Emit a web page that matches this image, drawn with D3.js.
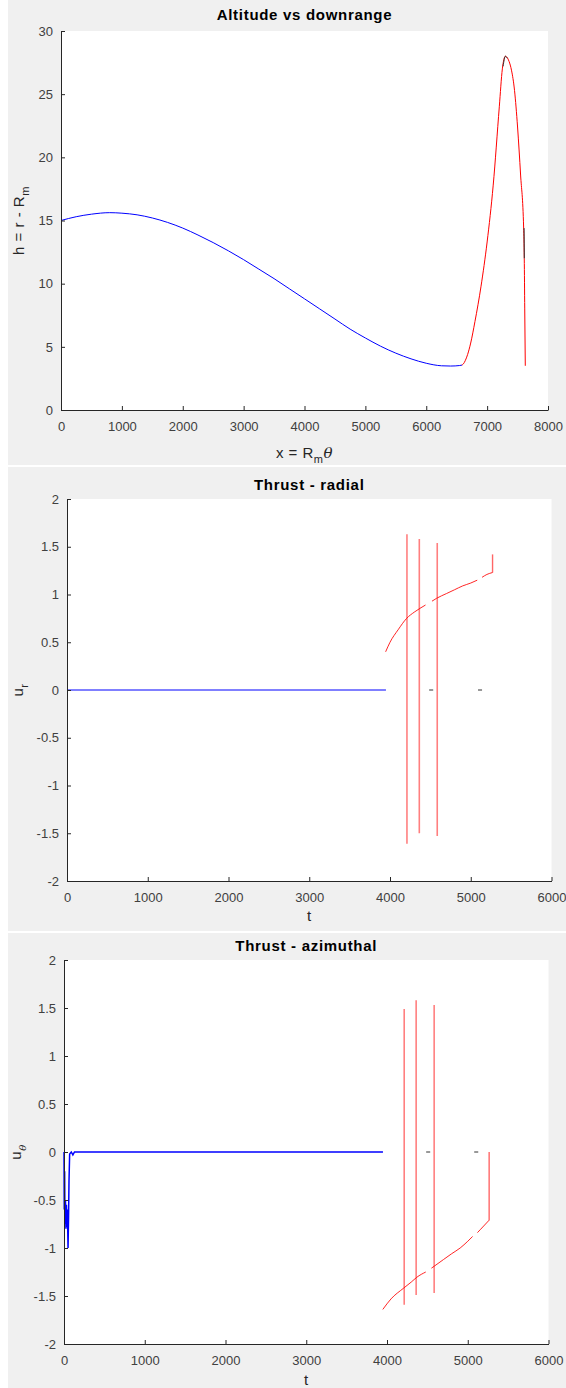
<!DOCTYPE html>
<html>
<head>
<meta charset="utf-8">
<script src="https://cdn.jsdelivr.net/npm/d3@7"></script>
<style>
  body { margin: 0; background: #fff; }
  text { font-family: "Liberation Sans", Arial, sans-serif; }
</style>
</head>
<body>
<script>
// ---- data ----
// altitude vs downrange: [x, h]
const coastPath = [[0,15.0],[250,15.3],[500,15.5],[800,15.62],[1000,15.58],[1250,15.45],[1500,15.2],
  [1750,14.85],[2000,14.4],[2250,13.85],[2500,13.25],[2750,12.6],[3000,11.9],[3250,11.15],[3500,10.4],
  [3750,9.6],[4000,8.8],[4250,8.0],[4500,7.2],[4750,6.4],[5000,5.7],[5250,5.05],[5500,4.5],[5750,4.05],
  [6000,3.7],[6250,3.5],[6400,3.48],[6550,3.52],[6590,3.56]];
const burnPath = [[6585,3.56],[6610,3.65],[6640,3.9],[6680,4.4],[6730,5.3],[6800,7.0],[6900,9.8],[7000,13.3],
  [7100,17.8],[7200,24.0],[7250,27.0],[7300,28.0],[7360,27.6],[7400,26.9],[7450,25.3],[7500,22.4],
  [7550,18.6],[7600,14.4],[7610,12.0],[7618,8.0],[7627,3.5]];
const coastMarks = [
  [[7262,27.2],[7300,28.0],[7330,27.85]],
  [[7607,14.4],[7611,12.0]]
];

// radial thrust: [t, u_r]
const radialZero = [[0,0],[3950,0]];
const radialBurn = [[3946,0.40],[4000,0.50],[4100,0.63],[4206,0.75],[4300,0.815],[4371,0.855],[4440,0.89],null,
  [4520,0.93],[4577,0.96],[4700,1.01],[4800,1.05],[4900,1.09],[5000,1.12],[5080,1.15],null,
  [5140,1.18],[5200,1.21],[5270,1.23]];
const radialEnd = [[5270,1.23],[5270,1.42]];
const radialSpikes = [[4210,1.63,-1.61],[4363,1.58,-1.50],[4585,1.54,-1.53]];
const radialDashes = [[4485,4535],[5090,5140]];

// azimuthal thrust: [t, u_theta]
const azimuthZero = [[0,0],[3,-0.6],[8,-0.2],[12,-0.75],[18,-0.5],[24,-0.8],[30,-0.55],[36,-0.78],
  [42,-0.6],[50,-1.0],[56,-0.7],[62,-0.3],[70,-0.02],[90,0],[110,-0.03],[130,0],[3950,0]];
const azimuthBurn = [[3948,-1.64],[4050,-1.53],[4203,-1.42],[4300,-1.355],[4369,-1.305],[4480,-1.25],null,
  [4550,-1.21],[4584,-1.19],[4700,-1.12],[4800,-1.06],[4906,-1.0],[5000,-0.93],[5060,-0.88],null,
  [5120,-0.84],[5154,-0.81],[5265,-0.71]];
const azimuthEnd = [[5265,-0.71],[5265,0.0]];
const azimuthSpikes = [[4213,1.49,-1.59],[4361,1.58,-1.49],[4584,1.53,-1.47]];
const azimuthDashes = [[4485,4535],[5080,5130]];

const W = 566, H = 1388;
const svg = d3.select("body").append("svg")
  .attr("width", W).attr("height", H);

svg.append("rect").attr("width", W).attr("height", H).attr("fill", "#fff");

// gray figure backgrounds
[[0,465],[467,931],[933,1388]].forEach(([y0,y1]) => {
  svg.append("rect").attr("x", 8).attr("y", y0).attr("width", W - 8).attr("height", y1 - y0)
    .attr("fill", "#f0f0f0");
});

function drawPanel(p) {
  const x = d3.scaleLinear().domain(p.xDomain).range([p.left, p.right]);
  const y = d3.scaleLinear().domain(p.yDomain).range([p.bottom, p.top]);

  svg.append("rect")
    .attr("x", p.left).attr("y", p.top)
    .attr("width", p.right - p.left).attr("height", p.bottom - p.top)
    .attr("fill", "#fff");

  const g = svg.append("g");

  p.series.forEach(s => {
    const line = d3.line().defined(d => d != null)
      .x(d => x(d[0])).y(d => y(d[1]))
      .curve(s.curve || d3.curveLinear);
    g.append("path")
      .attr("d", line(s.data))
      .attr("fill", "none")
      .attr("stroke", s.color)
      .attr("stroke-opacity", s.opacity || 1)
      .attr("stroke-width", s.width || 1);
  });

  if (p.spikes) {
    g.selectAll(null).data(p.spikes).join("line")
      .attr("x1", d => x(d[0])).attr("x2", d => x(d[0]))
      .attr("y1", d => y(d[1])).attr("y2", d => y(d[2]))
      .attr("stroke", "#ff0000").attr("stroke-opacity", 0.5).attr("stroke-width", 1.6);
  }
  if (p.dashes) {
    g.selectAll(null).data(p.dashes).join("line")
      .attr("x1", d => x(d[0])).attr("x2", d => x(d[1]))
      .attr("y1", y(0)).attr("y2", y(0))
      .attr("stroke", "#333").attr("stroke-width", 1);
  }

  const fmt = d => String(d);
  const ax = svg.append("g")
    .attr("transform", `translate(0,${p.bottom})`)
    .call(d3.axisBottom(x).tickValues(p.xTicks).tickFormat(fmt)
      .tickSizeInner(-4).tickSizeOuter(0).tickPadding(12));
  const ay = svg.append("g")
    .attr("transform", `translate(${p.left},0)`)
    .call(d3.axisLeft(y).tickValues(p.yTicks).tickFormat(fmt)
      .tickSizeInner(-4).tickSizeOuter(0).tickPadding(8));
  [ax, ay].forEach(a => {
    a.selectAll("path, line").attr("stroke", "#262626");
    a.selectAll("text").attr("fill", "#404040").style("font-size", "13px")
      .style("font-family", "'Liberation Sans', Arial, sans-serif");
  });

  svg.append("text")
    .attr("x", (p.left + p.right) / 2).attr("y", p.titleY)
    .attr("text-anchor", "middle")
    .style("font-size", "15px").style("font-weight", "bold")
    .style("letter-spacing", "0.7px")
    .text(p.title);

  const xl = svg.append("text")
    .attr("x", (p.left + p.right) / 2).attr("y", p.xLabelY)
    .attr("text-anchor", "middle").attr("fill", "#262626")
    .style("font-size", "15px").style("letter-spacing", "0.5px");
  p.xLabel(xl);

  const yl = svg.append("text")
    .attr("transform", `translate(${p.yLabelX},${(p.top + p.bottom) / 2}) rotate(-90)`)
    .attr("text-anchor", "middle").attr("fill", "#262626")
    .style("font-size", "15px").style("letter-spacing", "0.5px");
  p.yLabel(yl);
}

const smooth = d3.curveMonotoneX;

drawPanel({
  left: 61, right: 548, top: 31, bottom: 410,
  xDomain: [0, 8000], yDomain: [0, 30],
  xTicks: d3.range(0, 8001, 1000), yTicks: d3.range(0, 31, 5),
  title: "Altitude vs downrange", titleY: 20, xLabelY: 458, yLabelX: 24,
  series: [
    {data: coastPath, color: "#0000ff", curve: smooth},
    {data: burnPath, color: "#ff0000", curve: smooth},
    {data: coastMarks[0], color: "#333", curve: smooth},
    {data: coastMarks[1], color: "#333"}
  ],
  xLabel: t => {
    t.append("tspan").text("x = R");
    t.append("tspan").attr("dy", 5).style("font-size", "11px").text("m");
    t.append("tspan").attr("dy", -5).style("font-style", "italic").style("font-family", "'DejaVu Serif', serif").text("θ");
  },
  yLabel: t => {
    t.append("tspan").text("h = r - R");
    t.append("tspan").attr("dy", 5).style("font-size", "11px").text("m");
  }
});

drawPanel({
  left: 67, right: 551.5, top: 499, bottom: 881,
  xDomain: [0, 6000], yDomain: [-2, 2],
  xTicks: d3.range(0, 6001, 1000), yTicks: d3.range(-2, 2.01, 0.5),
  title: "Thrust - radial", titleY: 490, xLabelY: 921, yLabelX: 23,
  series: [
    {data: radialZero, color: "#0000ff"},
    {data: radialBurn, color: "#ff0000", curve: smooth, opacity: 0.85},
    {data: radialEnd, color: "#ff0000", opacity: 0.6, width: 1.4}
  ],
  spikes: radialSpikes, dashes: radialDashes,
  xLabel: t => t.text("t"),
  yLabel: t => {
    t.append("tspan").text("u");
    t.append("tspan").attr("dy", 5).style("font-size", "11px").text("r");
  }
});

drawPanel({
  left: 64, right: 548.5, top: 960, bottom: 1344,
  xDomain: [0, 6000], yDomain: [-2, 2],
  xTicks: d3.range(0, 6001, 1000), yTicks: d3.range(-2, 2.01, 0.5),
  title: "Thrust - azimuthal", titleY: 951, xLabelY: 1385, yLabelX: 21,
  series: [
    {data: azimuthZero, color: "#0000ff", width: 1.5},
    {data: azimuthBurn, color: "#ff0000", curve: smooth, opacity: 0.85},
    {data: azimuthEnd, color: "#ff0000", opacity: 0.6, width: 1.4}
  ],
  spikes: azimuthSpikes, dashes: azimuthDashes,
  xLabel: t => t.text("t"),
  yLabel: t => {
    t.append("tspan").text("u");
    t.append("tspan").attr("dy", 5).style("font-size", "10px").style("font-style", "italic")
      .style("font-family", "'DejaVu Serif', serif").text("θ");
  }
});
</script>
</body>
</html>
